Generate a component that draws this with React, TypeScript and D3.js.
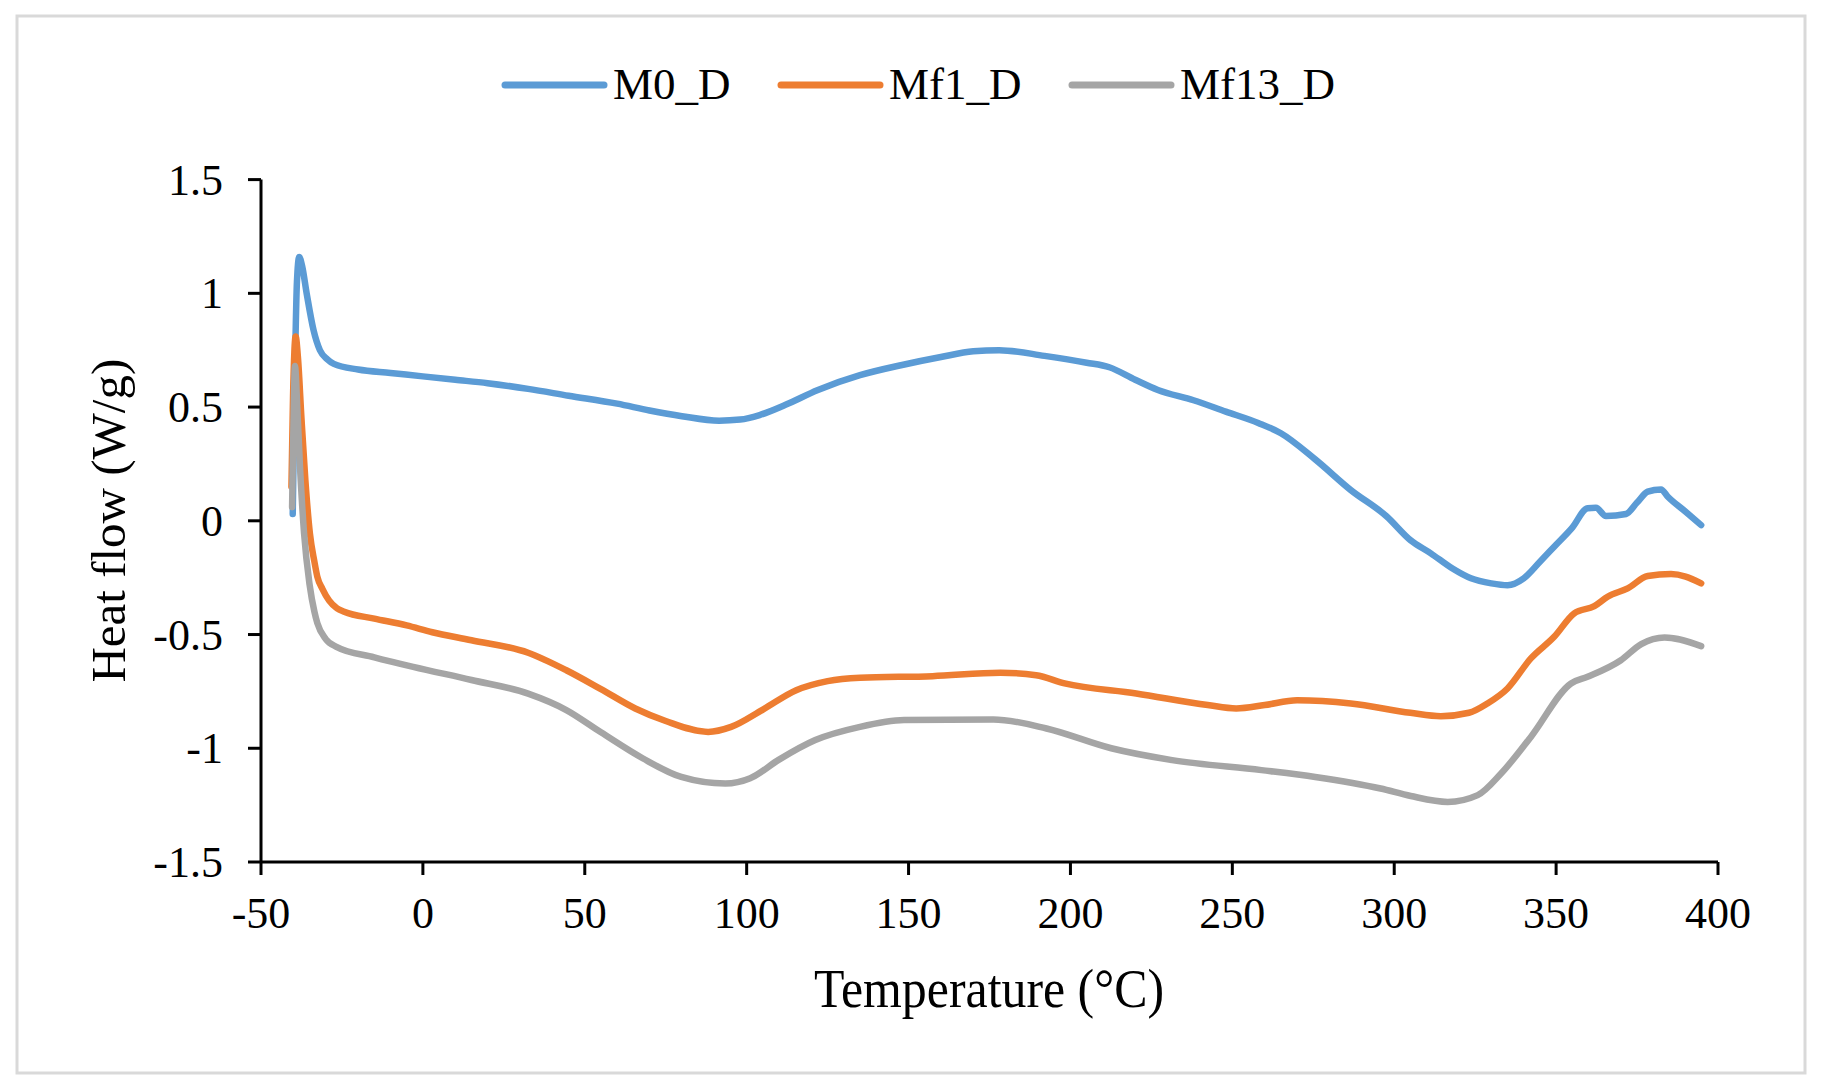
import React from "react";
import * as d3 from "d3";

const seriesNames = ["M0_D", "Mf1_D", "Mf13_D"];
const seriesColors = ["#5B9BD5", "#ED7D31", "#A5A5A5"];

const xTicks = [-50, 0, 50, 100, 150, 200, 250, 300, 350, 400];
const yTicks = [1.5, 1, 0.5, 0, -0.5, -1, -1.5];
const yTickLabels = ["1.5", "1", "0.5", "0", "-0.5", "-1", "-1.5"];

const m0D: [number, number][] = [
  [-40.2, 0.03], [-39.6, 0.6], [-38.9, 1.05], [-38.2, 1.16], [-37.3, 1.12], [-35.9, 1.0],
  [-33.8, 0.84], [-31.8, 0.75], [-29.5, 0.71], [-27.5, 0.69], [-20, 0.665], [-10, 0.65],
  [0, 0.635], [10, 0.62], [20, 0.605], [32.5, 0.58], [45, 0.55], [60, 0.515], [70, 0.485],
  [80, 0.46], [91.5, 0.44], [98, 0.445], [104, 0.465], [112, 0.51], [122, 0.575], [135, 0.64],
  [148, 0.685], [160, 0.72], [170, 0.745], [178, 0.75], [192, 0.725], [205, 0.695], [212, 0.675],
  [220, 0.62], [227, 0.575], [238, 0.53], [248, 0.48], [258, 0.43], [265, 0.385], [275.6, 0.27],
  [286.6, 0.135], [297.6, 0.02], [305, -0.085], [311.3, -0.143], [318, -0.21], [323.7, -0.253],
  [330, -0.275], [335, -0.283], [340, -0.253], [345, -0.18], [349.4, -0.114], [355, -0.03],
  [359.7, 0.055], [362.3, 0.057], [365.4, 0.021], [371.6, 0.03], [375, 0.08], [378.3, 0.128],
  [382.4, 0.138], [384.5, 0.106], [390, 0.04], [394.8, -0.019],
];

const mf1D: [number, number][] = [
  [-40.6, 0.15], [-40.1, 0.55], [-39.3, 0.81], [-38.6, 0.72], [-37.5, 0.45], [-36.3, 0.18],
  [-34.9, -0.055], [-33.5, -0.18], [-32.6, -0.246], [-31, -0.3], [-29, -0.35], [-26.5, -0.385],
  [-24.3, -0.4], [-15, -0.43], [-5, -0.46], [2.9, -0.49], [15, -0.525], [32.5, -0.58],
  [44.3, -0.657], [55, -0.74], [65.6, -0.825], [75, -0.88], [88.1, -0.928], [95.2, -0.906],
  [105, -0.83], [115.3, -0.745], [125, -0.705], [135, -0.69], [157.4, -0.683], [178.4, -0.668],
  [189.4, -0.679], [198.2, -0.715], [220.3, -0.759], [242.4, -0.81], [251.2, -0.825],
  [260, -0.81], [270, -0.789], [286.6, -0.803], [305, -0.844], [314.4, -0.859], [323.1, -0.844],
  [328.8, -0.803], [335, -0.737], [342.2, -0.605], [349.4, -0.51], [355.6, -0.407],
  [361.8, -0.375], [365.9, -0.334], [372.1, -0.297], [378.3, -0.243], [385.5, -0.234],
  [390, -0.245], [394.8, -0.275],
];

const mf13D: [number, number][] = [
  [-40.4, 0.06], [-40, 0.4], [-39.5, 0.68], [-38.8, 0.5], [-38, 0.25], [-36.7, -0.055],
  [-35, -0.28], [-33.5, -0.4], [-32.6, -0.45], [-30, -0.52], [-26.7, -0.554], [-15, -0.6],
  [-3, -0.642], [15, -0.7], [32.5, -0.76], [44.3, -0.832], [55, -0.93], [68, -1.045],
  [79.8, -1.126], [93.4, -1.155], [101.1, -1.132], [110, -1.05], [121.2, -0.964], [135, -0.906],
  [148.6, -0.876], [176.2, -0.873], [192.6, -0.913], [212.6, -1.0], [231.4, -1.052],
  [259, -1.096], [275.6, -1.126], [295.8, -1.177], [305.1, -1.21], [316.5, -1.236],
  [325.8, -1.206], [333, -1.111], [342.2, -0.95], [354.6, -0.715], [359.7, -0.686],
  [370, -0.613], [376.3, -0.542], [383.5, -0.513], [394.8, -0.551],
];

const allSeries = [m0D, mf1D, mf13D];

const W = 1823;
const H = 1090;
const FONT = '"Liberation Serif", "Times New Roman", serif';

export default function App() {
  const x = d3.scaleLinear().domain([-50, 400]).range([261, 1718]);
  const y = d3.scaleLinear().domain([-1.5, 1.5]).range([862, 179.6]);
  const line = d3
    .line<[number, number]>()
    .x((d) => x(d[0]))
    .y((d) => y(d[1]))
    .curve(d3.curveMonotoneX);

  const legendX = [505, 781, 1072];

  return (
    <svg
      width={W}
      height={H}
      style={{ position: "absolute", left: 0, top: 0, background: "#fff" }}
    >
      <rect x={0} y={0} width={W} height={H} fill="#fff" />
      <rect x={17} y={16} width={1788} height={1057} fill="#fff" stroke="#d9d9d9" strokeWidth={3} />

      {/* legend */}
      {seriesNames.map((name, i) => (
        <g key={name}>
          <line
            x1={legendX[i]}
            x2={legendX[i] + 99}
            y1={85}
            y2={85}
            stroke={seriesColors[i]}
            strokeWidth={7}
            strokeLinecap="round"
          />
          <text x={legendX[i] + 108} y={99} fontFamily={FONT} fontSize={45} fill="#000">
            {name}
          </text>
        </g>
      ))}

      {/* series */}
      {allSeries.map((s, i) => (
        <path
          key={i}
          d={line(s) || ""}
          fill="none"
          stroke={seriesColors[i]}
          strokeWidth={6.5}
          strokeLinecap="round"
          strokeLinejoin="round"
        />
      ))}

      {/* axes */}
      <line x1={261} x2={261} y1={y(1.5)} y2={y(-1.5)} stroke="#000" strokeWidth={3} />
      <line x1={x(-50)} x2={x(400)} y1={862} y2={862} stroke="#000" strokeWidth={3} />
      {yTicks.map((t, i) => (
        <g key={t}>
          <line x1={248} x2={261} y1={y(t)} y2={y(t)} stroke="#000" strokeWidth={3} />
          <text
            x={223}
            y={y(t) + 15}
            textAnchor="end"
            fontFamily={FONT}
            fontSize={44}
            fill="#000"
          >
            {yTickLabels[i]}
          </text>
        </g>
      ))}
      {xTicks.map((t) => (
        <g key={t}>
          <line x1={x(t)} x2={x(t)} y1={862} y2={875} stroke="#000" strokeWidth={3} />
          <text x={x(t)} y={928} textAnchor="middle" fontFamily={FONT} fontSize={44} fill="#000">
            {t}
          </text>
        </g>
      ))}

      {/* axis titles */}
      <text
        x={989}
        y={1007}
        textAnchor="middle"
        fontFamily={FONT}
        fontSize={55}
        textLength={350}
        lengthAdjust="spacingAndGlyphs"
        fill="#000"
      >
        Temperature (°C)
      </text>
      <text
        transform={`translate(125, 520.7) rotate(-90)`}
        textAnchor="middle"
        fontFamily={FONT}
        fontSize={49}
        fill="#000"
      >
        Heat flow (W/g)
      </text>
    </svg>
  );
}
